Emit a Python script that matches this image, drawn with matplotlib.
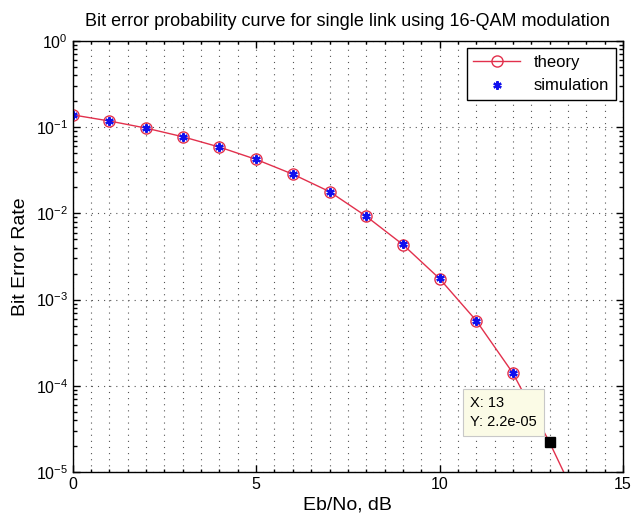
import numpy as np
import matplotlib
matplotlib.use("Agg")
import matplotlib.pyplot as plt
from matplotlib.ticker import MultipleLocator, LogLocator, NullFormatter

plt.rcParams['font.family'] = ['Liberation Sans', 'DejaVu Sans']
plt.rcParams['mathtext.default'] = 'regular'

# Data
ebno_theory = [0, 1, 2, 3, 4, 5, 6, 7, 8, 9, 10, 11, 12, 13, 14]
ber_theory = [0.139, 0.118, 0.0976, 0.0775, 0.0588, 0.0423, 0.0285, 0.0179,
              0.00926, 0.00435, 0.00175, 0.00057, 0.000140, 2.2e-05, 2.8e-06]
ebno_sim = [0, 1, 2, 3, 4, 5, 6, 7, 8, 9, 10, 11, 12]
ber_sim = [0.139, 0.118, 0.0975, 0.0776, 0.0587, 0.0424, 0.0284, 0.0178,
           0.00925, 0.00436, 0.00176, 0.00057, 0.000141]
tip_x = 13
tip_y = 2.2e-05
title = "Bit error probability curve for single link using 16-QAM modulation"
xlabel = "Eb/No, dB"
ylabel = "Bit Error Rate"

fig = plt.figure(figsize=(6.31, 5.13), dpi=100)
ax = fig.add_axes([72.7/631, 1-472/513, (623-72.7)/631, (472-41)/513])

red = '#e2304c'
ax.semilogy(ebno_theory, ber_theory, '-', color=red, lw=1.0,
            marker='o', mfc='none', mec=red, ms=8, mew=1.0, label='theory',
            markevery=list(range(len(ebno_theory) - 2)))
ax.semilogy(ebno_sim, ber_sim, linestyle='none', marker=(6, 2, 0), color='#1010ee',
            ms=6, mew=1.6, label='simulation')

ax.set_xlim(0, 15)
ax.set_ylim(1e-5, 1)
ax.xaxis.set_major_locator(MultipleLocator(5))
ax.xaxis.set_minor_locator(MultipleLocator(0.5))
ax.yaxis.set_major_locator(LogLocator(base=10, numticks=10))
ax.yaxis.set_minor_locator(LogLocator(base=10, subs=np.arange(2, 10), numticks=20))
ax.yaxis.set_minor_formatter(NullFormatter())

ax.tick_params(which='both', direction='in', top=True, right=True, labelsize=11.5, width=1)
ax.tick_params(which='major', length=5)
ax.tick_params(which='minor', length=3)
ax.tick_params(axis='x', which='minor', length=2)
for s in ax.spines.values():
    s.set_linewidth(1.0)

gkw = dict(color='#555555', lw=0.8, linestyle=(0, (1, 4.5)))
ax.grid(True, which='major', axis='both', **gkw)
ax.grid(True, which='minor', axis='x', **gkw)

ax.set_title(title, fontsize=13, pad=11)
ax.set_xlabel(xlabel, fontsize=14, labelpad=3)
ax.set_ylabel(ylabel, fontsize=14, labelpad=5)

leg = ax.legend(loc='upper right', fontsize=12, fancybox=False, edgecolor='black',
                framealpha=1, borderaxespad=0.45, handlelength=2.8)
leg.get_frame().set_linewidth(1.0)

# data tip
ax.plot([tip_x], [tip_y], marker='s', color='black', ms=7, linestyle='none', zorder=5)
ax.annotate(f"X: {tip_x}\nY: {tip_y:.1e}",
            xy=(tip_x, tip_y), xytext=(-46, 30), textcoords='offset pixels',
            ha='center', va='center', multialignment='left',
            fontsize=10.5, linespacing=1.4,
            bbox=dict(boxstyle='square,pad=0.5', fc='#fbfbe6', ec='#c8c8c8', lw=0.8),
            zorder=6)

fig.savefig('out.png', dpi=100)
